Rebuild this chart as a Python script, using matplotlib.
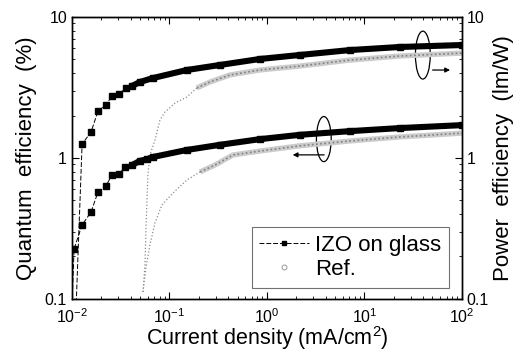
import numpy as np
import matplotlib
matplotlib.use("Agg")
import matplotlib.pyplot as plt
from matplotlib.patches import Ellipse
from matplotlib.lines import Line2D
from matplotlib.ticker import NullFormatter

plt.rcParams['font.family'] = ['Liberation Sans', 'DejaVu Sans']
plt.rcParams['mathtext.default'] = 'regular'

# IZO on glass, quantum efficiency (%) vs current density (mA/cm2)
izo_j_qe = [0.0098, 0.0105, 0.0127, 0.0157, 0.0185, 0.0223, 0.0257, 0.0303, 0.0350, 0.0412,
            0.0498, 0.0588, 0.0677, 0.151, 0.330, 0.847, 2.18, 7.09, 23.1, 100]
izo_qe = [0.06, 0.226, 0.335, 0.414, 0.574, 0.633, 0.757, 0.770, 0.863, 0.89,
          0.953, 0.98, 1.016, 1.14, 1.24, 1.36, 1.46, 1.55, 1.63, 1.71]

# IZO on glass, power efficiency (lm/W)
izo_j_pe = [0.0108, 0.0127, 0.0157, 0.0185, 0.0223, 0.0257, 0.0303, 0.0358, 0.0412, 0.0498,
            0.0677, 0.151, 0.330, 0.847, 2.18, 7.09, 23.1, 100]
izo_pe = [0.06, 1.256, 1.53, 2.15, 2.38, 2.75, 2.85, 3.13, 3.24, 3.46,
          3.69, 4.21, 4.57, 5.04, 5.38, 5.83, 6.13, 6.33]

# Ref. device
ref_j_qe = [0.0535, 0.0574, 0.0631, 0.0710, 0.0837, 0.109, 0.151, 0.206, 0.293, 0.448,
            0.847, 2.18, 7.09, 23.1, 100]
ref_qe = [0.112, 0.166, 0.242, 0.346, 0.464, 0.565, 0.698, 0.796, 0.891, 1.05,
          1.12, 1.22, 1.32, 1.41, 1.50]

ref_j_pe = [0.0535, 0.0561, 0.0574, 0.0588, 0.0601, 0.0631, 0.0710, 0.0799, 0.0900, 0.114,
            0.151, 0.191, 0.260, 0.417, 0.847, 2.18, 7.09, 23.1, 100]
ref_pe = [0.112, 0.174, 0.308, 0.504, 0.757, 1.05, 1.34, 1.86, 2.12, 2.45,
          2.71, 3.14, 3.46, 3.88, 4.21, 4.49, 4.95, 5.29, 5.55]

fig, ax = plt.subplots(figsize=(5.16, 3.55), dpi=100)
fig.subplots_adjust(left=0.1395, right=0.895, bottom=0.158, top=0.952)

ax.set_xscale('log')
ax.set_yscale('log')
ax.set_xlim(0.01, 100)
ax.set_ylim(0.1, 10)

# reference device: sparse dotted rise, then speckled grey band
for jx, yy, k in [(ref_j_qe, ref_qe, 7), (ref_j_pe, ref_pe, 11)]:
    ax.plot(jx, yy, ls=':', color='0.55', lw=0.9)
    ax.plot(jx[k:], yy[k:], color='0.8', lw=3.8, solid_capstyle='butt')
    ax.plot(jx[k:], yy[k:], ls=(0, (1, 1.5)), color='0.5', lw=1.2)

# IZO on glass: dashed line with squares, merging into a dense band
for jx, yy, k in [(izo_j_qe, izo_qe, 9), (izo_j_pe, izo_pe, 8)]:
    ax.plot(jx, yy, ls=(0, (5, 2)), color='k', lw=0.7,
            marker='s', ms=4.6, mfc='k', mec='k')
    ax.plot(jx[k:], yy[k:], color='k', lw=4.4, solid_capstyle='butt')

ax.set_yticks([0.1, 1, 10], ['0.1', '1', '10'])
ax.yaxis.set_minor_formatter(NullFormatter())
ax.tick_params(which='both', direction='in', top=True, right=False, labelsize=11.5)
ax.tick_params(which='major', length=5, width=0.8)
ax.tick_params(which='minor', length=2.5, width=0.6)
ax.tick_params(axis='x', pad=6)

ax2 = ax.twinx()
ax2.set_yscale('log')
ax2.set_ylim(0.1, 10)
ax2.set_yticks([0.1, 1, 10], ['0.1', '1', '10'])
ax2.yaxis.set_minor_formatter(NullFormatter())
ax2.tick_params(which='both', direction='in', labelsize=11.5)
ax2.tick_params(which='major', length=5, width=0.8)
ax2.tick_params(which='minor', length=2.5, width=0.6)

for a in (ax, ax2):
    for s in a.spines.values():
        s.set_linewidth(1.0)

ax.set_xlabel('Current density (mA/cm$^2$)', fontsize=15.5, labelpad=-1)
ax.set_ylabel('Quantum  efficiency  (%)', fontsize=16, labelpad=6)
ax2.set_ylabel('Power  efficiency  (lm/W)', fontsize=16, labelpad=3)

# ellipses and arrows marking which axis each pair belongs to
ax.add_patch(Ellipse((0.900, 0.865), 0.038, 0.170, transform=ax.transAxes,
                     fill=False, lw=0.9, color='k'))
ax.annotate('', xy=(0.977, 0.812), xytext=(0.918, 0.812), xycoords='axes fraction',
            arrowprops=dict(arrowstyle='-|>', lw=0.9, color='k', mutation_scale=7))
ax.add_patch(Ellipse((0.646, 0.567), 0.038, 0.160, transform=ax.transAxes,
                     fill=False, lw=0.9, color='k'))
ax.annotate('', xy=(0.559, 0.511), xytext=(0.654, 0.511), xycoords='axes fraction',
            arrowprops=dict(arrowstyle='-|>', lw=0.9, color='k', mutation_scale=7))

handles = [Line2D([], [], color='k', ls=(0, (5, 2)), lw=0.7, marker='s', ms=3.5),
           Line2D([], [], ls='none', marker='o', ms=3.5, mfc='none', mec='0.6', mew=0.7)]
leg = ax.legend(handles, ['IZO on glass', 'Ref.'], loc='lower right',
                bbox_to_anchor=(0.967, 0.039), fontsize=16, frameon=True, fancybox=False,
                edgecolor='0.3', handlelength=2.25, handletextpad=0.25,
                borderpad=0.35, labelspacing=0.15, borderaxespad=0)
leg.get_frame().set_linewidth(0.8)

fig.savefig('out.png', dpi=100)
